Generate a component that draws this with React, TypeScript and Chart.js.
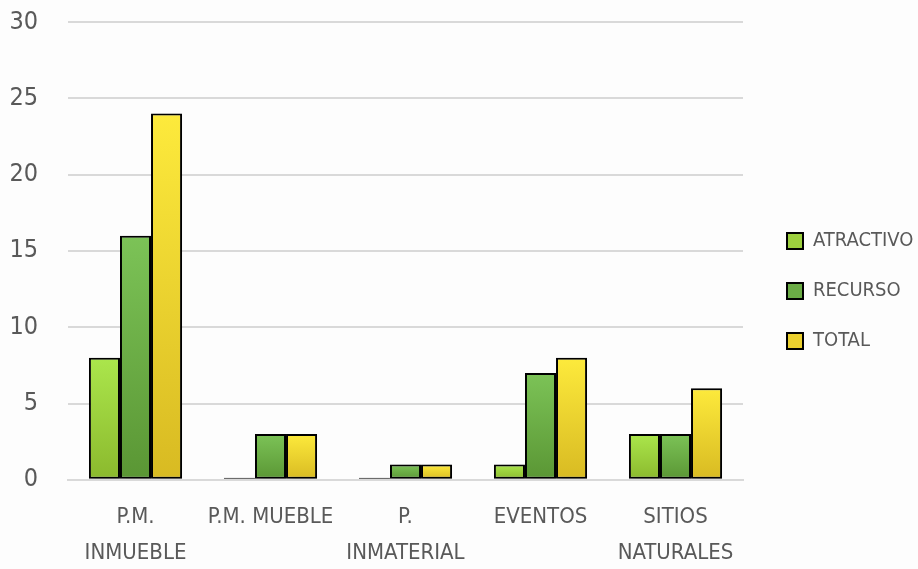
import React, { useEffect, useRef } from "react";
import { Chart, registerables } from "chart.js";

Chart.register(...registerables);

const categories: (string | string[])[] = [
  ["P.M.", "INMUEBLE"],
  "P.M. MUEBLE",
  ["P.", "INMATERIAL"],
  "EVENTOS",
  ["SITIOS", "NATURALES"],
];
const seriesNames = ["ATRACTIVO", "RECURSO", "TOTAL"];
const atractivo = [8, 0, 0, 1, 3];
const recurso = [16, 3, 1, 7, 3];
const total = [24, 3, 1, 8, 6];
const yMax = 30;
const yStep = 5;

const topColors = ["#abe64c", "#7cc357", "#fdea3c"];
const bottomColors = ["#8bb92d", "#5a9634", "#d8ba22"];
const midColors = ["#9dd03e", "#6bac46", "#ecd12f"];

const FONT = "'DejaVu Sans Condensed', 'Liberation Sans', sans-serif";
const LEGEND_WIDTH = 161;

export default function App() {
  const ref = useRef<HTMLCanvasElement | null>(null);

  useEffect(() => {
    if (!ref.current) return;
    const makeBg = (i: number) => (ctx: any) => {
      const chart = ctx.chart;
      const ys = chart.scales?.y;
      if (!ys || ctx.type !== "data") return midColors[i];
      const v = ctx.parsed?.y ?? 0;
      const top = ys.getPixelForValue(v);
      const bot = ys.getPixelForValue(0);
      if (!isFinite(top) || !isFinite(bot) || Math.abs(bot - top) < 3) return "#333333";
      const g = chart.ctx.createLinearGradient(0, top, 0, bot);
      g.addColorStop(0, topColors[i]);
      g.addColorStop(1, bottomColors[i]);
      return g;
    };
    const shadow = {
      id: "barShadow",
      beforeDatasetsDraw(chart: any) {
        const c = chart.ctx;
        c.save();
        c.shadowColor = "rgba(0,0,0,0.28)";
        c.shadowBlur = 7;
        c.shadowOffsetX = 3;
        c.shadowOffsetY = 2;
      },
      afterDatasetsDraw(chart: any) {
        chart.ctx.restore();
      },
    };
    const legendWidthFix = {
      id: "legendWidthFix",
      beforeLayout(chart: any) {
        const lg = chart.legend;
        if (lg && !lg.__patched) {
          const orig = lg.fit;
          lg.fit = function () {
            orig.call(this);
            this.width = LEGEND_WIDTH;
          };
          lg.__patched = true;
        }
      },
    };
    const data = [atractivo, recurso, total];
    const chart = new Chart(ref.current, {
      type: "bar",
      data: {
        labels: categories,
        datasets: seriesNames.map((name, i) => ({
          label: name,
          data: data[i],
          backgroundColor: makeBg(i),
          borderColor: "#000000",
          borderWidth: 2,
          borderSkipped: false,
          minBarLength: 2,
          categoryPercentage: 0.69,
          barPercentage: 1,
        })),
      },
      options: {
        animation: false,
        responsive: true,
        maintainAspectRatio: false,
        layout: { padding: { top: 0, right: 0, left: 0, bottom: -13 } },
        plugins: {
          tooltip: { enabled: false },
          legend: {
            position: "right",
            labels: {
              boxWidth: 16,
              boxHeight: 16,
              padding: 30,
              color: "#595959",
              font: { family: FONT, size: 20 },
              generateLabels: (ch: any) =>
                ch.data.datasets.map((ds: any, i: number) => ({
                  text: ds.label,
                  fillStyle: midColors[i],
                  strokeStyle: "#000000",
                  lineWidth: 2,
                  hidden: false,
                  datasetIndex: i,
                  fontColor: "#595959",
                })),
            },
          },
        },
        scales: {
          x: {
            grid: { display: false },
            border: { display: true, color: "#d9d9d9", width: 2 },
            ticks: {
              color: "#595959",
              font: { family: FONT, size: 22, lineHeight: 1.64 },
              maxRotation: 0,
              autoSkip: false,
              padding: 11,
            },
          },
          y: {
            min: 0,
            max: yMax,
            grid: {
              color: "#d9d9d9",
              lineWidth: 2,
              drawTicks: true,
              tickLength: 23,
              tickColor: "rgba(0,0,0,0)",
            },
            border: { display: false },
            afterFit: (s: any) => {
              s.width = 68;
            },
            ticks: {
              stepSize: yStep,
              color: "#595959",
              font: { family: FONT, size: 25 },
              padding: 7,
            },
          },
          yR: {
            position: "right",
            min: 0,
            max: yMax,
            grid: { display: false },
            border: { display: false },
            ticks: { display: false },
            afterFit: (s: any) => {
              s.width = 14;
            },
          },
        },
      },
      plugins: [shadow, legendWidthFix],
    });
    return () => chart.destroy();
  }, []);

  return (
    <div style={{ position: "fixed", left: 0, top: 0, width: 918, height: 569, background: "#fdfdfd" }}>
      <canvas ref={ref} />
    </div>
  );
}
